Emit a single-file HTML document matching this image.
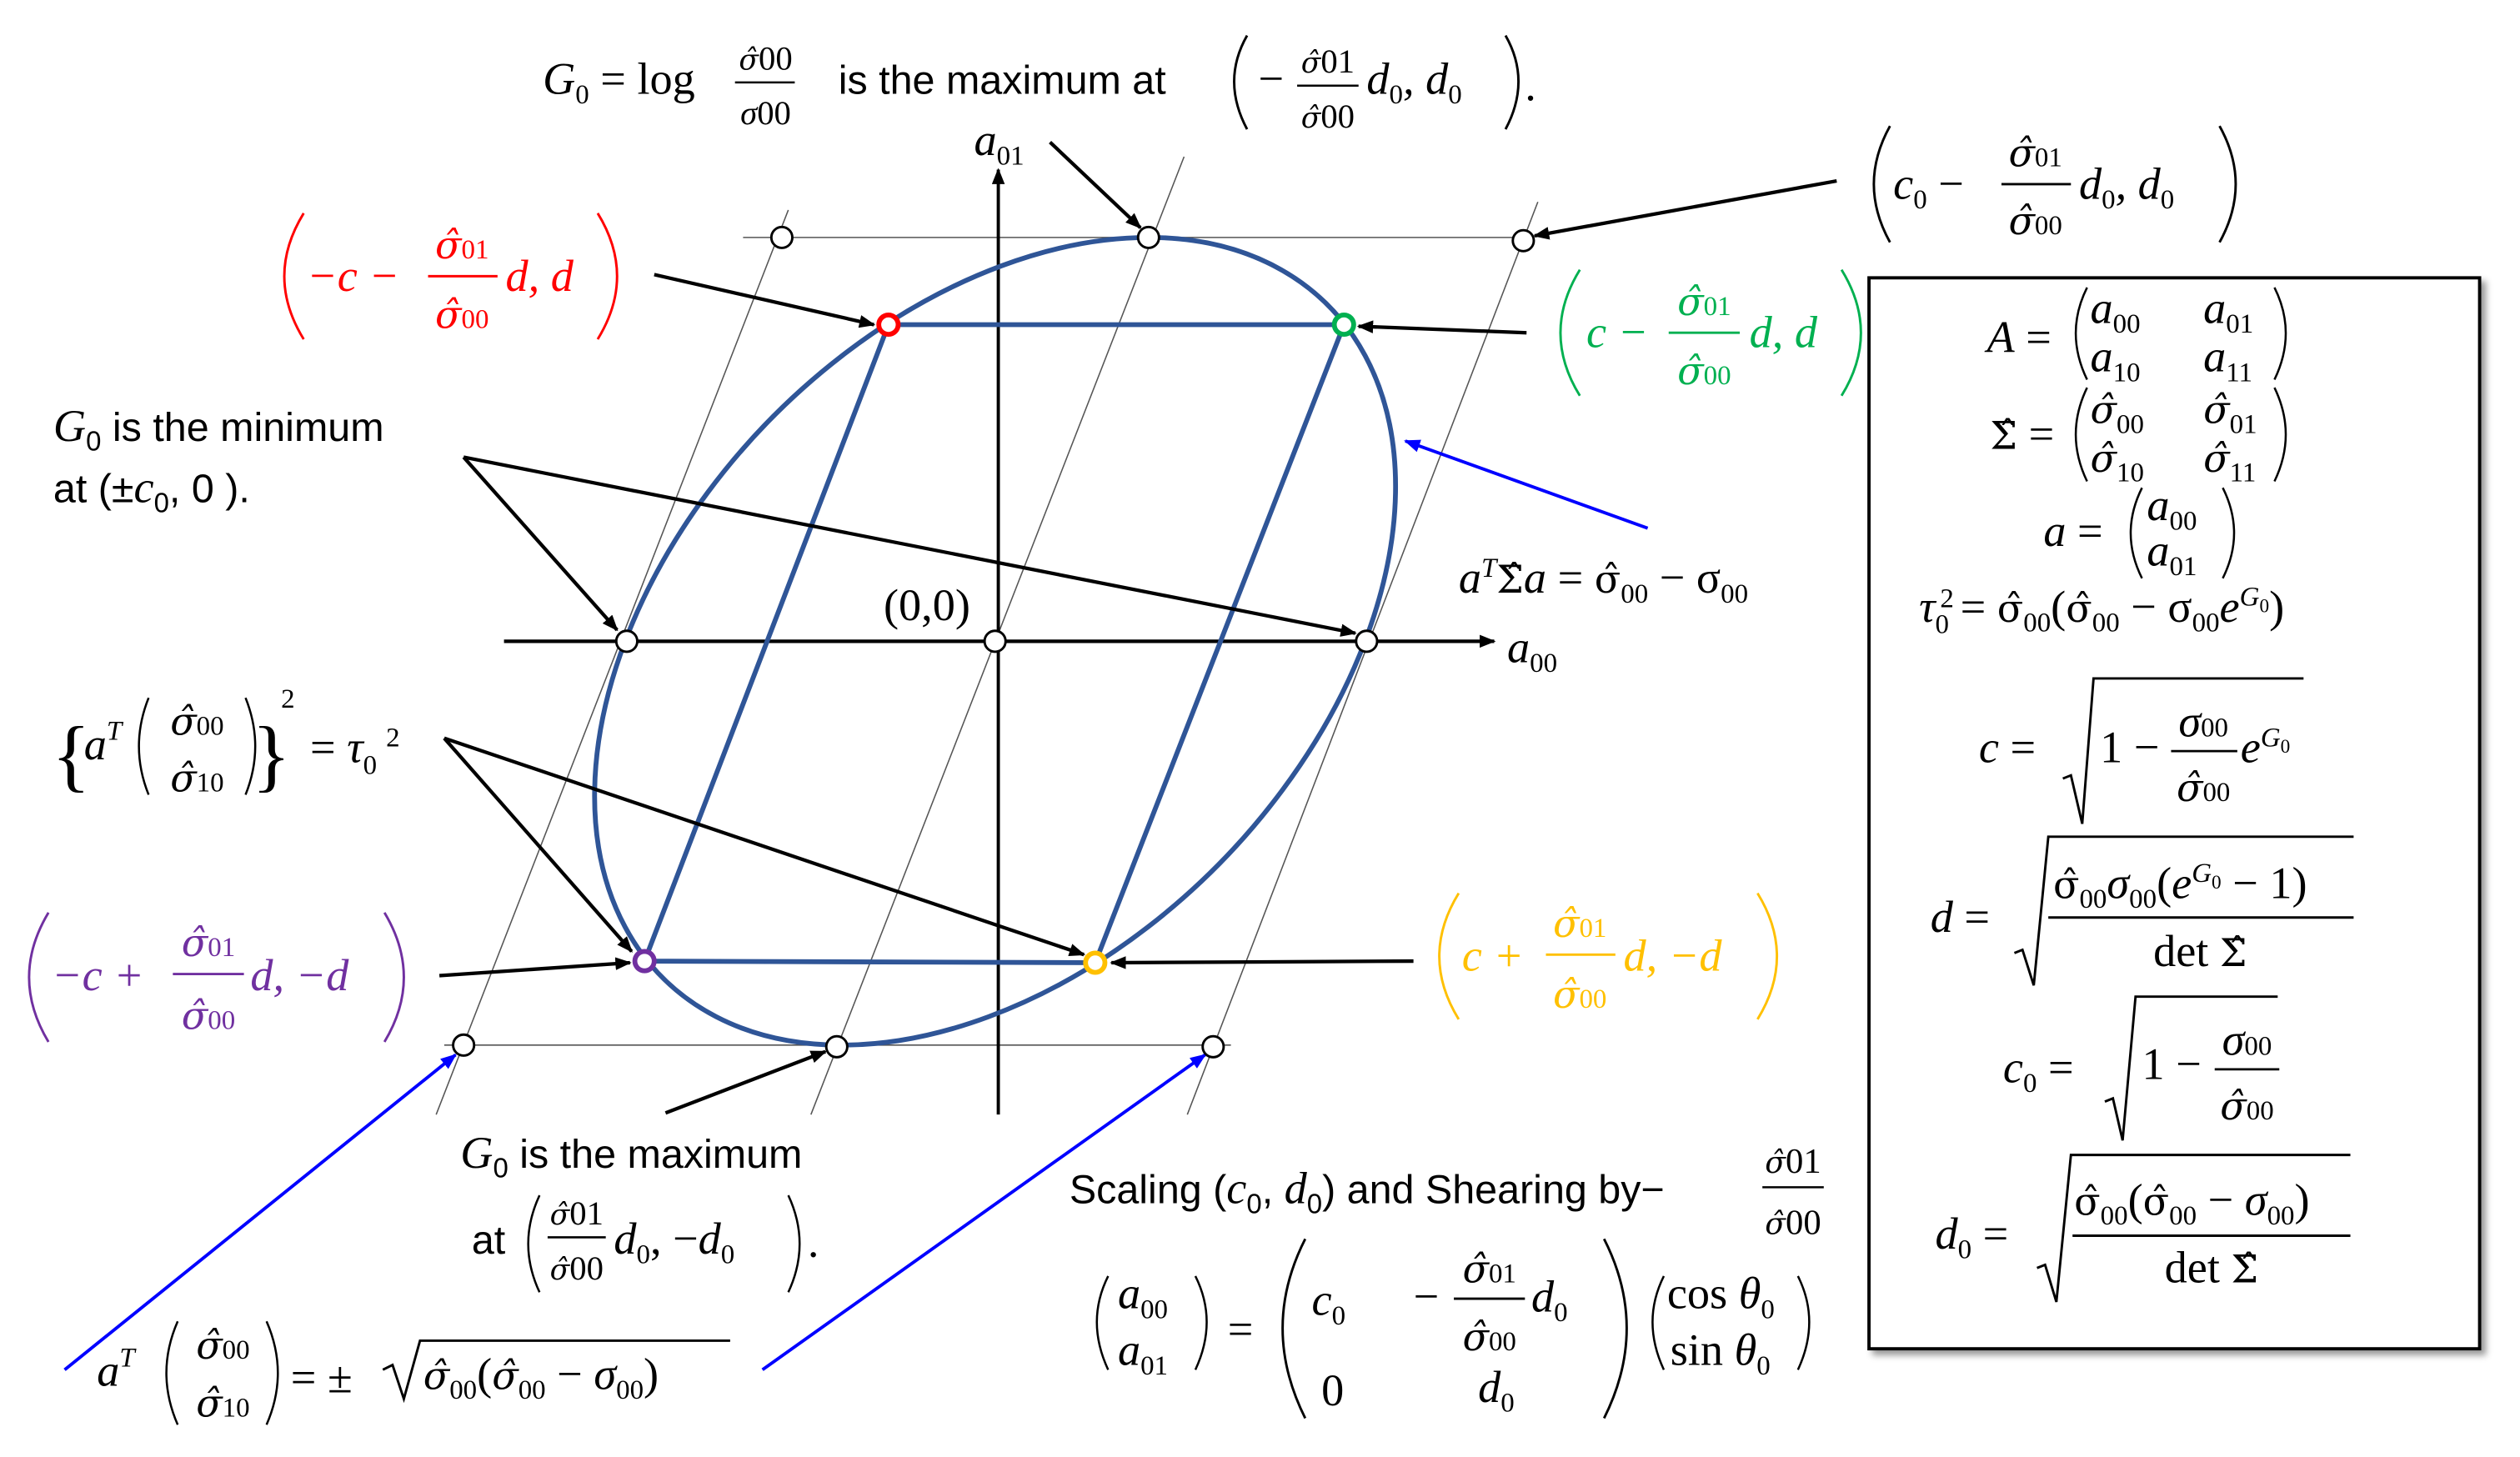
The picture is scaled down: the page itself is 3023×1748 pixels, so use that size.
<!DOCTYPE html>
<html><head><meta charset="utf-8"><style>
html,body{margin:0;padding:0;background:#fff}
svg{display:block}
.m{font-family:"Liberation Serif",serif;font-style:italic;font-size:28px}
.r{font-family:"Liberation Serif",serif;font-size:28px}
.t{font-family:"Liberation Sans",sans-serif;font-size:25px}
.s{font-size:17px}
.h{font-family:"DejaVu Serif",serif;font-size:0.85em}
</style></head><body>
<svg width="3023" height="1748" viewBox="0 0 1560 902" preserveAspectRatio="none" xmlns="http://www.w3.org/2000/svg">
<defs>
<marker id="ak" markerWidth="10" markerHeight="8" refX="9" refY="4" orient="auto" markerUnits="userSpaceOnUse"><path d="M0,0 L10,4 L0,8 z" fill="#000"/></marker>
<marker id="ab" markerWidth="10" markerHeight="8" refX="9" refY="4" orient="auto" markerUnits="userSpaceOnUse"><path d="M0,0 L10,4 L0,8 z" fill="#00f"/></marker>
<filter id="sh"><feDropShadow dx="3" dy="3" stdDeviation="2" flood-opacity="0.4"/></filter>
</defs>
<g stroke="#555" stroke-width="0.8" fill="none">
<line x1="460" y1="147" x2="945" y2="147"/>
<line x1="275" y1="647" x2="762" y2="647"/>
<line x1="488" y1="130" x2="270" y2="690"/>
<line x1="733" y1="97" x2="502" y2="690"/>
<line x1="952" y1="125" x2="735" y2="690"/>
</g>
<line x1="312" y1="397" x2="925" y2="397" stroke="#000" stroke-width="2.2" marker-end="url(#ak)"/>
<line x1="618" y1="690" x2="618" y2="105" stroke="#000" stroke-width="2" marker-end="url(#ak)"/>
<ellipse cx="0" cy="0" rx="1" ry="1" transform="matrix(229 0 95 -250 616 397)" fill="none" stroke="#2f5597" stroke-width="5.8" vector-effect="non-scaling-stroke"/>
<polygon points="550,201 832,201 678,596 399,595" fill="none" stroke="#2f5597" stroke-width="3"/>
<g stroke="#000" stroke-width="2.2" marker-end="url(#ak)">
<line x1="650" y1="88" x2="706" y2="141"/>
<line x1="1137" y1="112" x2="950" y2="146"/>
<line x1="405" y1="170" x2="541" y2="201"/>
<line x1="945" y1="206" x2="841" y2="202"/>
<line x1="287" y1="283" x2="382" y2="390"/>
<line x1="287" y1="283" x2="839" y2="392"/>
<line x1="275" y1="457" x2="391" y2="589"/>
<line x1="275" y1="457" x2="671" y2="591"/>
<line x1="272" y1="604" x2="390" y2="596"/>
<line x1="875" y1="595" x2="688" y2="596"/>
<line x1="412" y1="689" x2="511" y2="651"/>
</g>
<g stroke="#00f" stroke-width="2" marker-end="url(#ab)">
<line x1="1020" y1="327" x2="870" y2="273"/>
<line x1="40" y1="848" x2="282" y2="653"/>
<line x1="472" y1="848" x2="746" y2="653"/>
</g>
<g fill="#fff" stroke="#000" stroke-width="1.5">
<circle cx="484" cy="147" r="6.5"/><circle cx="711" cy="147" r="6.5"/><circle cx="943" cy="149" r="6.5"/>
<circle cx="388" cy="397" r="6.5"/><circle cx="616" cy="397" r="6.5"/><circle cx="846" cy="397" r="6.5"/>
<circle cx="287" cy="647" r="6.5"/><circle cx="518" cy="648" r="6.5"/><circle cx="751" cy="648" r="6.5"/>
</g>
<circle cx="550" cy="201" r="6" fill="#fff" stroke="#f00" stroke-width="3"/>
<circle cx="832" cy="201" r="6" fill="#fff" stroke="#00b050" stroke-width="3"/>
<circle cx="399" cy="595" r="6" fill="#fff" stroke="#7030a0" stroke-width="3"/>
<circle cx="678" cy="596" r="6" fill="#fff" stroke="#ffc000" stroke-width="3"/>

<!-- Title -->
<text x="336" y="58" class="m">G<tspan class="s" dy="6" font-style="normal">0</tspan><tspan dy="-6" font-style="normal"> = log</tspan></text>
<text x="474" y="43" class="m" text-anchor="middle" style="font-size:21px"><tspan class="h">σ̂</tspan><tspan font-style="normal">00</tspan></text>
<line x1="455" y1="51" x2="492" y2="51" stroke="#000" stroke-width="1.3"/>
<text x="474" y="77" class="m" text-anchor="middle" style="font-size:21px">σ<tspan font-style="normal">00</tspan></text>
<text x="519" y="58" class="t">is the maximum at</text>
<path d="M772,22 Q756,50 772,80" fill="none" stroke="#000" stroke-width="1.5"/>
<text x="779" y="58" class="r">−</text>
<text x="822" y="45" class="m" text-anchor="middle" style="font-size:21px"><tspan class="h">σ̂</tspan><tspan font-style="normal">01</tspan></text>
<line x1="803" y1="53" x2="841" y2="53" stroke="#000" stroke-width="1.3"/>
<text x="822" y="79" class="m" text-anchor="middle" style="font-size:21px"><tspan class="h">σ̂</tspan><tspan font-style="normal">00</tspan></text>
<text x="846" y="58" class="m">d<tspan class="s" dy="6" font-style="normal">0</tspan><tspan dy="-6">, d</tspan><tspan class="s" dy="6" font-style="normal">0</tspan></text>
<path d="M932,22 Q948,50 932,80" fill="none" stroke="#000" stroke-width="1.5"/>
<text x="944" y="62" class="r">.</text>

<text x="603" y="96" class="m">a<tspan class="s" dy="6" font-style="normal">01</tspan></text>
<text x="933" y="410" class="m">a<tspan class="s" dy="6" font-style="normal">00</tspan></text>
<text x="547" y="384" class="r">(0,0)</text>

<path d="M1170,78 Q1150,114 1170,150" fill="none" stroke="#000" stroke-width="1.5"/>
<text x="1172" y="123" class="m">c<tspan class="s" dy="6" font-style="normal">0</tspan><tspan dy="-6" font-style="normal"> −</tspan></text>
<text x="1260" y="103" class="m" text-anchor="middle"><tspan class="h">σ̂</tspan><tspan class="s" font-style="normal">01</tspan></text>
<line x1="1239" y1="114" x2="1282" y2="114" stroke="#000" stroke-width="1.5"/>
<text x="1260" y="145" class="m" text-anchor="middle"><tspan class="h">σ̂</tspan><tspan class="s" font-style="normal">00</tspan></text>
<text x="1287" y="123" class="m">d<tspan class="s" dy="6" font-style="normal">0</tspan><tspan dy="-6">, d</tspan><tspan class="s" dy="6" font-style="normal">0</tspan></text>
<path d="M1374,78 Q1394,114 1374,150" fill="none" stroke="#000" stroke-width="1.5"/>

<g fill="#f00">
<text x="190" y="180" class="m">−c −</text>
<text x="286" y="160" class="m" text-anchor="middle"><tspan class="h">σ̂</tspan><tspan class="s" font-style="normal">01</tspan></text>
<text x="286" y="203" class="m" text-anchor="middle"><tspan class="h">σ̂</tspan><tspan class="s" font-style="normal">00</tspan></text>
<text x="313" y="180" class="m">d, d</text>
</g>
<line x1="265" y1="171" x2="308" y2="171" stroke="#f00" stroke-width="1.5"/>
<path d="M188,132 Q164,171 188,210 M370,132 Q394,171 370,210" fill="none" stroke="#f00" stroke-width="1.5"/>

<g fill="#00b050">
<text x="982" y="215" class="m">c −</text>
<text x="1055" y="195" class="m" text-anchor="middle"><tspan class="h">σ̂</tspan><tspan class="s" font-style="normal">01</tspan></text>
<text x="1055" y="238" class="m" text-anchor="middle"><tspan class="h">σ̂</tspan><tspan class="s" font-style="normal">00</tspan></text>
<text x="1083" y="215" class="m">d, d</text>
</g>
<line x1="1033" y1="206" x2="1077" y2="206" stroke="#00b050" stroke-width="1.5"/>
<path d="M978,167 Q954,206 978,245 M1140,167 Q1164,206 1140,245" fill="none" stroke="#00b050" stroke-width="1.5"/>

<g fill="#7030a0">
<text x="32" y="613" class="m">−c +</text>
<text x="129" y="592" class="m" text-anchor="middle"><tspan class="h">σ̂</tspan><tspan class="s" font-style="normal">01</tspan></text>
<text x="129" y="637" class="m" text-anchor="middle"><tspan class="h">σ̂</tspan><tspan class="s" font-style="normal">00</tspan></text>
<text x="155" y="613" class="m">d, −d</text>
</g>
<line x1="107" y1="603" x2="151" y2="603" stroke="#7030a0" stroke-width="1.5"/>
<path d="M30,565 Q6,605 30,645 M238,565 Q262,605 238,645" fill="none" stroke="#7030a0" stroke-width="1.5"/>

<g fill="#ffc000">
<text x="905" y="601" class="m">c +</text>
<text x="978" y="580" class="m" text-anchor="middle"><tspan class="h">σ̂</tspan><tspan class="s" font-style="normal">01</tspan></text>
<text x="978" y="624" class="m" text-anchor="middle"><tspan class="h">σ̂</tspan><tspan class="s" font-style="normal">00</tspan></text>
<text x="1005" y="601" class="m">d, −d</text>
</g>
<line x1="957" y1="591" x2="1000" y2="591" stroke="#ffc000" stroke-width="1.5"/>
<path d="M903,553 Q879,592 903,631 M1088,553 Q1112,592 1088,631" fill="none" stroke="#ffc000" stroke-width="1.5"/>

<text x="33" y="273" class="t"><tspan class="m">G</tspan><tspan class="s" dy="6">0</tspan><tspan dy="-6"> is the minimum</tspan></text>
<text x="33" y="311" class="t">at (±<tspan class="m">c</tspan><tspan class="s" dy="6">0</tspan><tspan dy="-6">, 0 ).</tspan></text>

<text x="903" y="367" class="m">a<tspan class="s" dy="-10">T</tspan><tspan dy="10" font-style="normal" class="h">Σ̂</tspan>a<tspan font-style="normal"> = </tspan><tspan class="h" font-style="normal">σ̂</tspan><tspan class="s" dy="6" font-style="normal">00</tspan><tspan dy="-6" font-style="normal"> − σ</tspan><tspan class="s" dy="6" font-style="normal">00</tspan></text>

<text x="32" y="484" class="r" style="font-size:50px;font-weight:normal">{</text>
<text x="52" y="470" class="m">a<tspan class="s" dy="-12">T</tspan></text>
<path d="M92,432 Q80,462 92,492 M152,432 Q164,462 152,492" fill="none" stroke="#000" stroke-width="1.3"/>
<text x="122" y="455" class="m" text-anchor="middle"><tspan class="h">σ̂</tspan><tspan class="s" font-style="normal">00</tspan></text>
<text x="122" y="490" class="m" text-anchor="middle"><tspan class="h">σ̂</tspan><tspan class="s" font-style="normal">10</tspan></text>
<text x="156" y="484" class="r" style="font-size:50px">}</text>
<text x="174" y="438" class="r" style="font-size:17px">2</text>
<text x="192" y="472" class="m"><tspan font-style="normal">= </tspan>τ<tspan class="s" dy="7" font-style="normal">0</tspan></text>
<text x="239" y="462" class="r" style="font-size:17px">2</text>

<text x="285" y="723" class="t"><tspan class="m">G</tspan><tspan class="s" dy="6">0</tspan><tspan dy="-6">  is the maximum</tspan></text>
<text x="292" y="776" class="t">at</text>
<path d="M334,740 Q320,770 334,800 M488,740 Q502,770 488,800" fill="none" stroke="#000" stroke-width="1.3"/>
<text x="357" y="758" class="m" text-anchor="middle" style="font-size:21px"><tspan class="h">σ̂</tspan><tspan font-style="normal">01</tspan></text>
<line x1="339" y1="766" x2="375" y2="766" stroke="#000" stroke-width="1.3"/>
<text x="357" y="792" class="m" text-anchor="middle" style="font-size:21px"><tspan class="h">σ̂</tspan><tspan font-style="normal">00</tspan></text>
<text x="380" y="776" class="m">d<tspan class="s" dy="6" font-style="normal">0</tspan><tspan dy="-6" font-style="normal">, −</tspan>d<tspan class="s" dy="6" font-style="normal">0</tspan></text>
<text x="500" y="778" class="r">.</text>

<text x="662" y="745" class="t">Scaling (<tspan class="m">c</tspan><tspan class="s" dy="6">0</tspan><tspan dy="-6">, </tspan><tspan class="m">d</tspan><tspan class="s" dy="6">0</tspan><tspan dy="-6">) and Shearing by−</tspan></text>
<text x="1110" y="726" class="m" text-anchor="middle" style="font-size:22px"><tspan class="h">σ̂</tspan><tspan font-style="normal">01</tspan></text>
<line x1="1091" y1="735" x2="1129" y2="735" stroke="#000" stroke-width="1.3"/>
<text x="1110" y="764" class="m" text-anchor="middle" style="font-size:22px"><tspan class="h">σ̂</tspan><tspan font-style="normal">00</tspan></text>

<path d="M686,790 Q672,818 686,848 M740,790 Q754,818 740,848" fill="none" stroke="#000" stroke-width="1.3"/>
<text x="692" y="810" class="m">a<tspan class="s" dy="6" font-style="normal">00</tspan></text>
<text x="692" y="845" class="m">a<tspan class="s" dy="6" font-style="normal">01</tspan></text>
<text x="760" y="832" class="r">=</text>
<path d="M808,767 Q780,822 808,878 M993,767 Q1021,822 993,878" fill="none" stroke="#000" stroke-width="1.5"/>
<text x="812" y="814" class="m">c<tspan class="s" dy="6" font-style="normal">0</tspan></text>
<text x="875" y="812" class="r">−</text>
<text x="922" y="794" class="m" text-anchor="middle"><tspan class="h">σ̂</tspan><tspan class="s" font-style="normal">01</tspan></text>
<line x1="900" y1="804" x2="944" y2="804" stroke="#000" stroke-width="1.5"/>
<text x="922" y="836" class="m" text-anchor="middle"><tspan class="h">σ̂</tspan><tspan class="s" font-style="normal">00</tspan></text>
<text x="948" y="812" class="m">d<tspan class="s" dy="6" font-style="normal">0</tspan></text>
<text x="818" y="870" class="r">0</text>
<text x="915" y="868" class="m">d<tspan class="s" dy="6" font-style="normal">0</tspan></text>
<path d="M1030,790 Q1016,818 1030,848 M1113,790 Q1127,818 1113,848" fill="none" stroke="#000" stroke-width="1.3"/>
<text x="1032" y="810" class="r">cos <tspan class="m">θ</tspan><tspan class="s" dy="6">0</tspan></text>
<text x="1034" y="845" class="r">sin <tspan class="m">θ</tspan><tspan class="s" dy="6">0</tspan></text>

<text x="60" y="858" class="m">a<tspan class="s" dy="-12">T</tspan></text>
<path d="M110,818 Q96,850 110,882 M165,818 Q179,850 165,882" fill="none" stroke="#000" stroke-width="1.3"/>
<text x="138" y="841" class="m" text-anchor="middle"><tspan class="h">σ̂</tspan><tspan class="s" font-style="normal">00</tspan></text>
<text x="138" y="877" class="m" text-anchor="middle"><tspan class="h">σ̂</tspan><tspan class="s" font-style="normal">10</tspan></text>
<text x="180" y="862" class="r">= ±</text>
<path d="M237,848 L243,845 L250,866 L260,830 L452,830" fill="none" stroke="#000" stroke-width="1.5"/>
<text x="262" y="860" class="m"><tspan class="h">σ̂</tspan><tspan class="s" dy="6" font-style="normal">00</tspan><tspan dy="-6" font-style="normal">(</tspan><tspan class="h">σ̂</tspan><tspan class="s" dy="6" font-style="normal">00</tspan><tspan dy="-6" font-style="normal"> − </tspan>σ<tspan class="s" dy="6" font-style="normal">00</tspan><tspan dy="-6" font-style="normal">)</tspan></text>

<rect x="1157" y="172" width="378" height="663" fill="#fff" stroke="#000" stroke-width="2" filter="url(#sh)"/>
<text x="1230" y="218" class="m">A<tspan font-style="normal"> =</tspan></text>
<path d="M1292,178 Q1278,206 1292,235 M1408,178 Q1422,206 1408,235" fill="none" stroke="#000" stroke-width="1.3"/>
<text x="1294" y="200" class="m">a<tspan class="s" dy="6" font-style="normal">00</tspan></text>
<text x="1364" y="200" class="m">a<tspan class="s" dy="6" font-style="normal">01</tspan></text>
<text x="1294" y="230" class="m">a<tspan class="s" dy="6" font-style="normal">10</tspan></text>
<text x="1364" y="230" class="m">a<tspan class="s" dy="6" font-style="normal">11</tspan></text>
<text x="1232" y="278" class="r"><tspan class="h">Σ̂</tspan> =</text>
<path d="M1292,240 Q1278,269 1292,298 M1408,240 Q1422,269 1408,298" fill="none" stroke="#000" stroke-width="1.3"/>
<text x="1294" y="262" class="m"><tspan class="h">σ̂</tspan><tspan class="s" dy="6" font-style="normal">00</tspan></text>
<text x="1364" y="262" class="m"><tspan class="h">σ̂</tspan><tspan class="s" dy="6" font-style="normal">01</tspan></text>
<text x="1294" y="292" class="m"><tspan class="h">σ̂</tspan><tspan class="s" dy="6" font-style="normal">10</tspan></text>
<text x="1364" y="292" class="m"><tspan class="h">σ̂</tspan><tspan class="s" dy="6" font-style="normal">11</tspan></text>
<text x="1265" y="338" class="m">a<tspan font-style="normal"> =</tspan></text>
<path d="M1326,302 Q1312,330 1326,358 M1376,302 Q1390,330 1376,358" fill="none" stroke="#000" stroke-width="1.3"/>
<text x="1329" y="322" class="m">a<tspan class="s" dy="6" font-style="normal">00</tspan></text>
<text x="1329" y="350" class="m">a<tspan class="s" dy="6" font-style="normal">01</tspan></text>
<text x="1188" y="385" class="m">τ<tspan class="s" dy="7" font-style="normal">0</tspan><tspan dy="-7" font-style="normal"> = </tspan><tspan class="h" font-style="normal">σ̂</tspan><tspan class="s" dy="6" font-style="normal">00</tspan><tspan dy="-6" font-style="normal">(</tspan><tspan class="h" font-style="normal">σ̂</tspan><tspan class="s" dy="6" font-style="normal">00</tspan><tspan dy="-6" font-style="normal"> − σ</tspan><tspan class="s" dy="6" font-style="normal">00</tspan><tspan dy="-6">e</tspan><tspan class="s" dy="-10">G</tspan><tspan dy="4" font-style="normal" style="font-size:12px">0</tspan><tspan dy="6" font-style="normal">)</tspan></text>
<text x="1201" y="376" class="r" style="font-size:17px">2</text>

<text x="1225" y="472" class="m">c<tspan font-style="normal"> =</tspan></text>
<path d="M1277,482 L1282,480 L1289,510 L1296,420 L1426,420" fill="none" stroke="#000" stroke-width="1.5"/>
<text x="1300" y="472" class="r">1 −</text>
<text x="1364" y="456" class="m" text-anchor="middle">σ<tspan class="s" font-style="normal">00</tspan></text>
<line x1="1344" y1="465" x2="1385" y2="465" stroke="#000" stroke-width="1.4"/>
<text x="1364" y="496" class="m" text-anchor="middle"><tspan class="h">σ̂</tspan><tspan class="s" font-style="normal">00</tspan></text>
<text x="1387" y="472" class="m">e<tspan class="s" dy="-10">G</tspan><tspan dy="4" font-style="normal" style="font-size:12px">0</tspan></text>

<text x="1195" y="577" class="m">d<tspan font-style="normal"> =</tspan></text>
<path d="M1247,590 L1252,588 L1259,610 L1268,518 L1457,518" fill="none" stroke="#000" stroke-width="1.5"/>
<text x="1271" y="556" class="m"><tspan class="h" font-style="normal">σ̂</tspan><tspan class="s" dy="6" font-style="normal">00</tspan><tspan dy="-6">σ</tspan><tspan class="s" dy="6" font-style="normal">00</tspan><tspan dy="-6" font-style="normal">(</tspan>e<tspan class="s" dy="-10">G</tspan><tspan dy="4" font-style="normal" style="font-size:12px">0</tspan><tspan dy="6" font-style="normal"> − 1)</tspan></text>
<line x1="1268" y1="568" x2="1457" y2="568" stroke="#000" stroke-width="1.5"/>
<text x="1362" y="598" class="r" text-anchor="middle">det <tspan class="h">Σ̂</tspan></text>

<text x="1240" y="670" class="m">c<tspan class="s" dy="6" font-style="normal">0</tspan><tspan dy="-6" font-style="normal"> =</tspan></text>
<path d="M1303,682 L1308,680 L1314,706 L1322,617 L1410,617" fill="none" stroke="#000" stroke-width="1.5"/>
<text x="1326" y="668" class="r">1 −</text>
<text x="1391" y="653" class="m" text-anchor="middle">σ<tspan class="s" font-style="normal">00</tspan></text>
<line x1="1371" y1="662" x2="1411" y2="662" stroke="#000" stroke-width="1.4"/>
<text x="1391" y="693" class="m" text-anchor="middle"><tspan class="h">σ̂</tspan><tspan class="s" font-style="normal">00</tspan></text>

<text x="1198" y="773" class="m">d<tspan class="s" dy="6" font-style="normal">0</tspan><tspan dy="-6" font-style="normal"> =</tspan></text>
<path d="M1261,785 L1266,783 L1273,806 L1282,715 L1455,715" fill="none" stroke="#000" stroke-width="1.5"/>
<text x="1284" y="752" class="m"><tspan class="h" font-style="normal">σ̂</tspan><tspan class="s" dy="6" font-style="normal">00</tspan><tspan dy="-6" font-style="normal">(</tspan><tspan class="h" font-style="normal">σ̂</tspan><tspan class="s" dy="6" font-style="normal">00</tspan><tspan dy="-6" font-style="normal"> − </tspan>σ<tspan class="s" dy="6" font-style="normal">00</tspan><tspan dy="-6" font-style="normal">)</tspan></text>
<line x1="1283" y1="765" x2="1455" y2="765" stroke="#000" stroke-width="1.5"/>
<text x="1369" y="794" class="r" text-anchor="middle">det <tspan class="h">Σ̂</tspan></text>
</svg>
</body></html>
